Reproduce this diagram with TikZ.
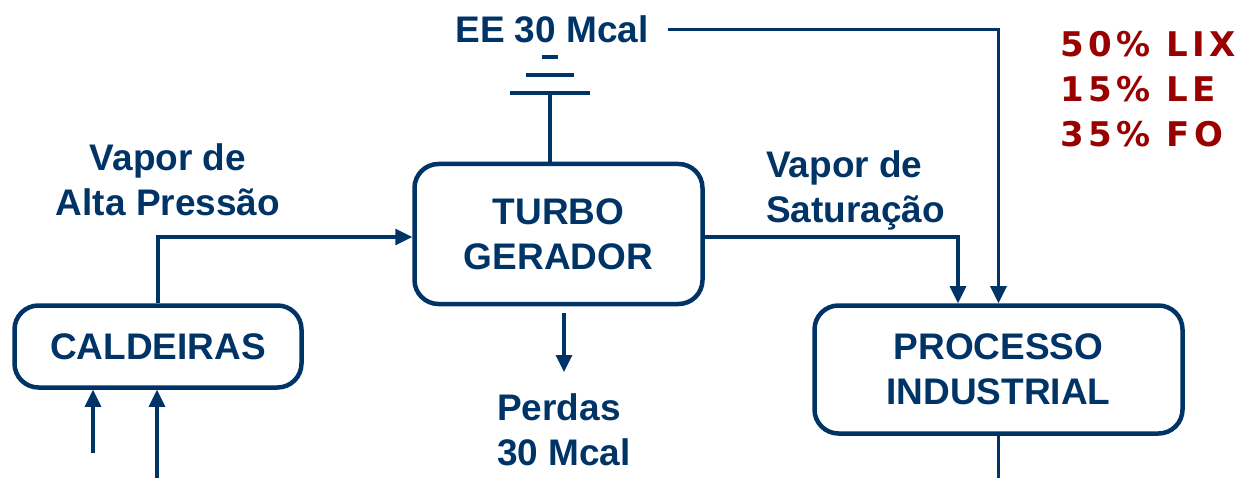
\documentclass[tikz,border=0pt]{standalone}
\usepackage{fontspec}
\setmainfont{Liberation Sans}
\newfontfamily\pctfont[LetterSpace=13]{DejaVu Sans}
\usetikzlibrary{arrows.meta}
\definecolor{navy}{RGB}{0,51,102}
\definecolor{darkred}{RGB}{153,0,0}

\begin{document}
\begin{tikzpicture}[x=1pt, y=-1pt, >={Triangle[length=17pt,width=16pt]},
  box/.style={draw=navy, line width=4.5pt, rounded corners=24pt, align=center,
    text=navy, font=\bfseries\fontsize{37}{45}\selectfont, inner sep=0pt},
  flow/.style={draw=navy, line width=3.2pt},
  lbl/.style={text=navy, font=\bfseries\fontsize{37}{45}\selectfont, inner sep=0pt}]
\useasboundingbox (0,0) rectangle (1247,478);

% Boxes
\node[box, minimum width=288pt, minimum height=140pt] (turbo) at (558.5,234) {TURBO\\GERADOR};
\node[box, minimum width=287pt, minimum height=82pt] (cald) at (158,346.5) {CALDEIRAS};
\node[box, minimum width=368pt, minimum height=128pt] (proc) at (998.5,369.5) {PROCESSO\\INDUSTRIAL};

% Labels (base = last line)
\node[lbl, anchor=base] (ee) at (552,43) {EE 30 Mcal};
\node[lbl, anchor=base, align=center] (alta) at (168,216) {Vapor de\\Alta Pressão};
\node[lbl, anchor=base west, align=left] (sat) at (766,223) {Vapor de\\Saturação};
\node[lbl, anchor=base west, align=left] (perdas) at (497,465) {Perdas\\30 Mcal};
\node[anchor=base west, align=left, inner sep=0pt, text=darkred,
  font=\pctfont\bfseries\fontsize{34}{45}\selectfont] (mix) at (1060,147) {50\% LIX\\15\% LE\\35\% FO};

% Free ends
\coordinate (gnd) at (550,93);
\coordinate (loss) at (564,372);
\coordinate (in1) at (93,453);
\coordinate (in2) at (157,478);
\coordinate (out) at (998.5,478);

% Steam and power lines
\draw[flow, ->] (cald.north) |- ([yshift=-3pt]turbo.west);
\draw[flow, ->] ([yshift=-3pt]turbo.east) -| ([xshift=-40.5pt]proc.north);
\draw[flow, ->] ([xshift=19pt]ee.east) -| (proc.north);
\draw[flow, ->] ([yshift=-7pt]turbo.south -| loss) -- (loss);
\draw[flow] (proc.south) -- (out);

% Inputs to the boilers
\draw[flow, ->] (in1) -- (in1 |- cald.south);
\draw[flow, ->] (in2) -- (in2 |- cald.south);

% Ground symbol
\draw[flow] (turbo.north -| gnd) -- (gnd);
\foreach \dy/\hw in {0/40, 18/24, 36/8}
  \draw[flow, line width=3.8pt] (gnd) ++(-\hw,-\dy) -- ++(2*\hw,0);
\end{tikzpicture}
\end{document}
